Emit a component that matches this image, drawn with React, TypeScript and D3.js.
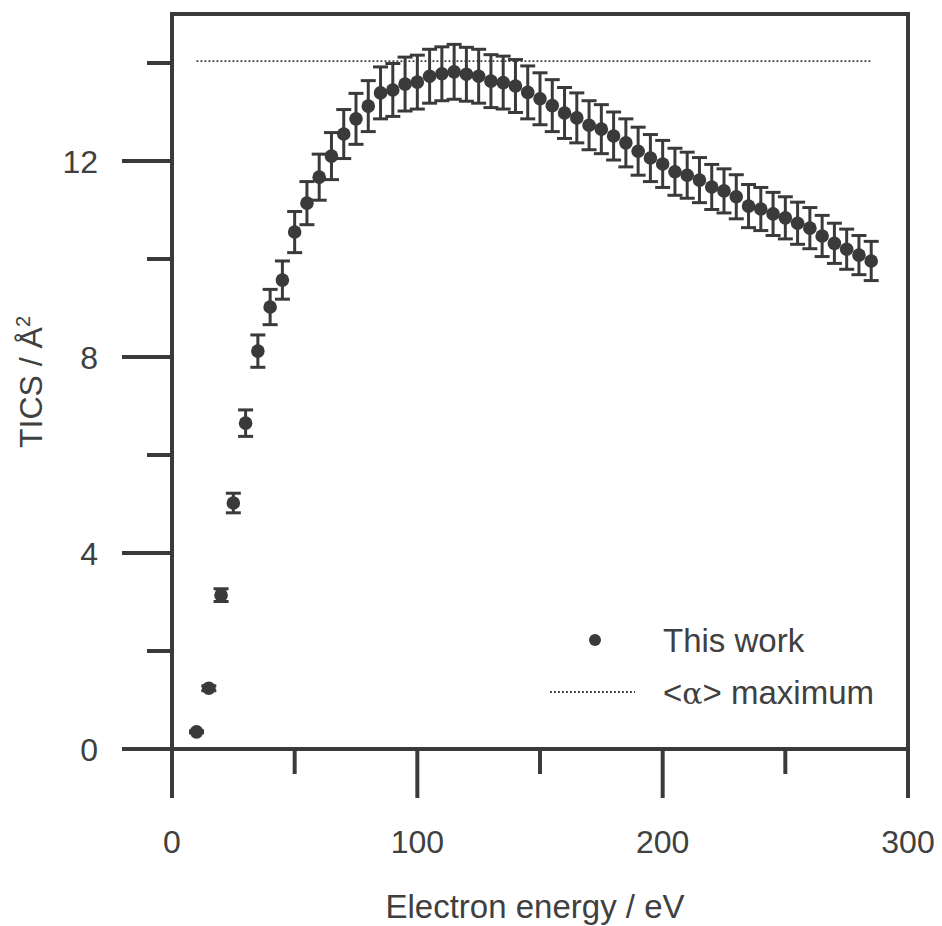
import * as React from "react";
import * as d3 from "d3";

const energies = [10, 15, 20, 25, 30, 35, 40, 45, 50, 55, 60, 65, 70, 75, 80, 85, 90, 95, 100, 105, 110, 115, 120, 125, 130, 135, 140, 145, 150, 155, 160, 165, 170, 175, 180, 185, 190, 195, 200, 205, 210, 215, 220, 225, 230, 235, 240, 245, 250, 255, 260, 265, 270, 275, 280, 285];
const tics = [0.35, 1.24, 3.14, 5.02, 6.65, 8.12, 9.02, 9.57, 10.55, 11.14, 11.67, 12.1, 12.55, 12.86, 13.12, 13.39, 13.45, 13.57, 13.61, 13.73, 13.78, 13.82, 13.77, 13.73, 13.63, 13.6, 13.53, 13.4, 13.27, 13.13, 12.98, 12.88, 12.73, 12.65, 12.51, 12.37, 12.2, 12.06, 11.94, 11.78, 11.71, 11.61, 11.47, 11.39, 11.27, 11.08, 11.02, 10.92, 10.84, 10.73, 10.63, 10.47, 10.32, 10.2, 10.08, 9.96];
const errors = [0.02, 0.05, 0.13, 0.2, 0.27, 0.33, 0.36, 0.39, 0.42, 0.44, 0.47, 0.48, 0.5, 0.52, 0.52, 0.53, 0.54, 0.55, 0.55, 0.55, 0.55, 0.56, 0.55, 0.55, 0.54, 0.54, 0.54, 0.54, 0.53, 0.53, 0.52, 0.51, 0.5, 0.5, 0.49, 0.49, 0.49, 0.48, 0.48, 0.48, 0.47, 0.46, 0.46, 0.45, 0.45, 0.44, 0.44, 0.44, 0.43, 0.43, 0.42, 0.42, 0.41, 0.41, 0.4, 0.4];
const alphaMax = 14.04;
const xMajor = [0, 100, 200, 300];
const xMinor = [50, 150, 250];
const yMajor = [0, 4, 8, 12];
const yMinor = [2, 6, 10, 14];

const ink = "#3a3a3a";
const textInk = "#404040";
const font = "'Liberation Sans', Arial, sans-serif";

function drawChart(svgEl) {
  const svg = d3.select(svgEl);
  svg.selectAll("*").remove();

  const x = d3.scaleLinear().domain([0, 300]).range([172, 908]);
  const y = d3.scaleLinear().domain([0, 15]).range([749, 14]);
  const data = energies.map((e, i) => ({ e, v: tics[i], err: errors[i] }));

  // dotted <alpha> max line
  svg.append("line")
    .attr("x1", x(d3.min(energies))).attr("x2", x(d3.max(energies)))
    .attr("y1", y(alphaMax)).attr("y2", y(alphaMax))
    .attr("stroke", ink).attr("stroke-width", 1.8)
    .attr("stroke-dasharray", "1.8,2.2");

  // error bars
  const eb = svg.append("g").attr("stroke", ink).attr("stroke-width", 3);
  data.forEach(d => {
    eb.append("line")
      .attr("x1", x(d.e)).attr("x2", x(d.e))
      .attr("y1", y(d.v - d.err)).attr("y2", y(d.v + d.err));
    [d.v - d.err, d.v + d.err].forEach(v => {
      eb.append("line")
        .attr("x1", x(d.e) - 7.5).attr("x2", x(d.e) + 7.5)
        .attr("y1", y(v)).attr("y2", y(v));
    });
  });

  svg.append("g").selectAll("circle")
    .data(data).enter().append("circle")
    .attr("cx", d => x(d.e)).attr("cy", d => y(d.v))
    .attr("r", 6.8).attr("fill", ink);

  // frame
  svg.append("rect")
    .attr("x", x(0)).attr("y", y(15))
    .attr("width", x(300) - x(0)).attr("height", y(0) - y(15))
    .attr("fill", "none").attr("stroke", ink).attr("stroke-width", 4);

  // ticks
  const ticks = svg.append("g").attr("stroke", ink).attr("stroke-width", 4).attr("stroke-linecap", "butt");
  xMajor.forEach(t => ticks.append("line").attr("x1", x(t)).attr("x2", x(t)).attr("y1", y(0)).attr("y2", y(0) + 49));
  xMinor.forEach(t => ticks.append("line").attr("x1", x(t)).attr("x2", x(t)).attr("y1", y(0)).attr("y2", y(0) + 25));
  yMajor.forEach(t => ticks.append("line").attr("y1", y(t)).attr("y2", y(t)).attr("x1", x(0)).attr("x2", x(0) - 50));
  yMinor.forEach(t => ticks.append("line").attr("y1", y(t)).attr("y2", y(t)).attr("x1", x(0)).attr("x2", x(0) - 25));

  const labels = svg.append("g").attr("fill", textInk).attr("font-family", font).attr("font-size", 32);
  xMajor.forEach(t => labels.append("text").attr("x", x(t)).attr("y", 853).attr("text-anchor", "middle").text(t));
  yMajor.forEach(t => labels.append("text").attr("x", 98).attr("y", y(t)).attr("dy", "0.36em").attr("text-anchor", "end").text(t));

  labels.append("text").attr("x", 535).attr("y", 918).attr("text-anchor", "middle")
    .attr("font-size", 33).text("Electron energy / eV");

  const yl = labels.append("text").attr("transform", "translate(42,382) rotate(-90)")
    .attr("text-anchor", "middle").attr("font-size", 32);
  yl.append("tspan").text("TICS / Å");
  yl.append("tspan").attr("font-size", 20).attr("dy", -12).text("2");

  // legend
  svg.append("circle").attr("cx", 595).attr("cy", 640).attr("r", 6).attr("fill", ink);
  labels.append("text").attr("x", 663).attr("y", 640).attr("dy", "0.36em").attr("font-size", 33).text("This work");
  svg.append("line").attr("x1", 550).attr("x2", 635).attr("y1", 692).attr("y2", 692)
    .attr("stroke", ink).attr("stroke-width", 1.8).attr("stroke-dasharray", "1.8,2.2");
  const lt = labels.append("text").attr("x", 663).attr("y", 692).attr("dy", "0.36em").attr("font-size", 33);
  lt.append("tspan").text("<");
  lt.append("tspan").attr("font-family", "'DejaVu Serif', serif").attr("font-size", 30).text("α");
  lt.append("tspan").text("> maximum");
}

const App = () => {
  const svg = React.useRef(null);
  React.useEffect(() => {
    drawChart(svg.current);
  }, [svg]);

  return (
    <div id="chart">
      <svg ref={svg} width={942} height={926} style={{ position: "absolute", left: 0, top: 0, background: "#fff" }}></svg>
    </div>
  );
};

export default App;
